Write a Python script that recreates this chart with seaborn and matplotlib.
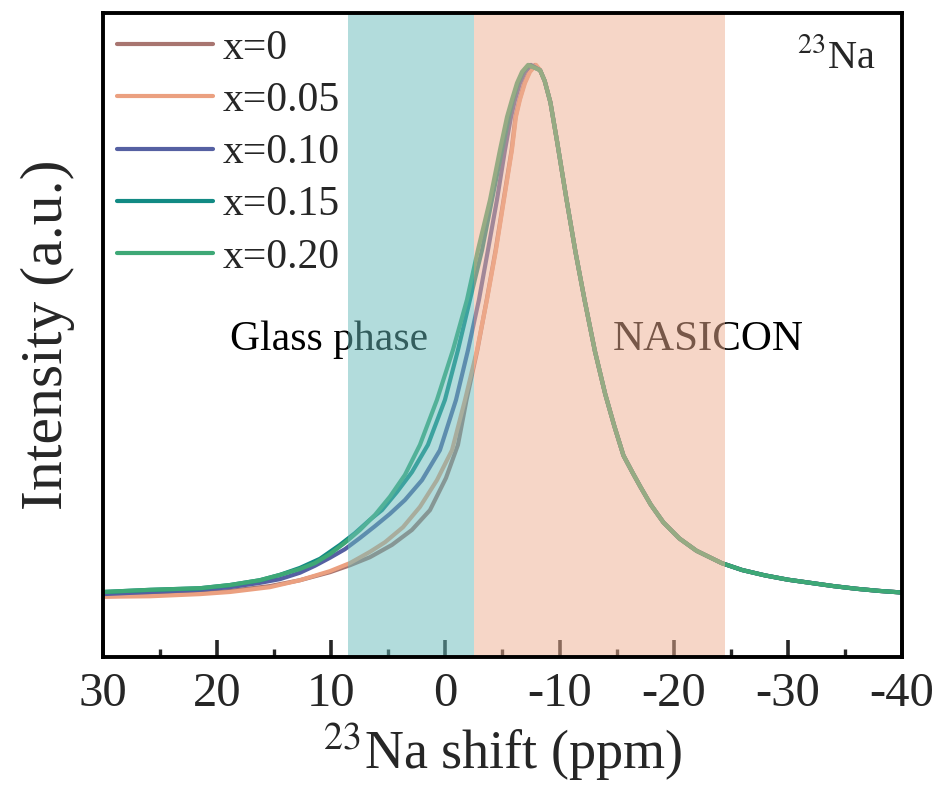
import numpy as np
import pandas as pd
import matplotlib
matplotlib.use("Agg")
import matplotlib.pyplot as plt
import seaborn as sns

# ---------------- data ----------------
series_labels = ["x=0", "x=0.05", "x=0.10", "x=0.15", "x=0.20"]
series_colors = ["#a87570", "#eba080", "#5560a2", "#128a84", "#3ea876"]

# left branch (low-field side) of each spectrum: ppm, normalized intensity
left_ppm_x000 = [30.0, 25.88, 21.50, 18.87, 15.37, 12.74, 10.11, 8.36, 6.61, 4.68, 2.93, 1.35, -0.05, -1.10, -1.85,
                 -2.80, -3.62, -4.40, -5.10, -5.80, -6.14, -6.49, -6.92, -7.35, -7.85]
left_int_x000 = [0.007, 0.009, 0.013, 0.017, 0.026, 0.037, 0.052, 0.065, 0.080, 0.103, 0.131, 0.168, 0.228, 0.290, 0.374,
                 0.467, 0.561, 0.654, 0.748, 0.841, 0.903, 0.935, 0.966, 0.987, 1.000]

left_ppm_x005 = [30.0, 25.88, 21.50, 18.87, 15.37, 12.74, 10.11, 8.36, 6.61, 5.29, 3.72, 2.23, 0.74, -0.58, -1.72,
                 -2.77, -3.64, -4.43, -5.13, -5.83, -6.18, -6.53, -6.97, -7.41, -7.94]
left_int_x005 = [0.006, 0.007, 0.011, 0.015, 0.024, 0.037, 0.054, 0.069, 0.090, 0.108, 0.136, 0.174, 0.224, 0.280, 0.374,
                 0.467, 0.561, 0.654, 0.748, 0.841, 0.903, 0.935, 0.966, 0.987, 1.000]

left_ppm_x010 = [30.0, 25.88, 21.50, 18.87, 16.25, 14.49, 12.74, 11.43, 10.11, 8.80, 7.48, 6.17, 4.86, 3.54, 2.05, 0.48,
                 -0.93, -1.98, -2.94, -3.73, -4.52, -5.22, -5.75, -6.10, -6.53, -6.97, -7.50]
left_int_x010 = [0.011, 0.015, 0.019, 0.024, 0.032, 0.039, 0.051, 0.064, 0.079, 0.095, 0.116, 0.138, 0.161, 0.187, 0.224, 0.280,
                 0.374, 0.467, 0.561, 0.654, 0.748, 0.841, 0.903, 0.935, 0.966, 0.987, 1.000]

left_ppm_x015 = [30.0, 25.88, 21.50, 18.87, 16.25, 14.49, 12.74, 10.99, 9.24, 7.92, 6.61, 5.56, 4.24, 2.93, 1.53, 0.04,
                 -1.10, -2.15, -3.21, -4.08, -4.96, -5.57, -5.92, -6.36, -6.80, -7.32]
left_int_x015 = [0.015, 0.019, 0.022, 0.028, 0.037, 0.047, 0.060, 0.077, 0.103, 0.125, 0.150, 0.168, 0.202, 0.239, 0.290, 0.374,
                 0.467, 0.561, 0.654, 0.748, 0.841, 0.903, 0.935, 0.966, 0.987, 1.000]

left_ppm_x020 = [30.0, 25.88, 21.50, 18.87, 16.25, 14.49, 12.74, 11.43, 10.11, 8.80, 7.48, 6.17, 4.86, 3.54, 2.23, 0.74,
                 -0.66, -1.89, -2.85, -3.91, -4.78, -5.40, -5.83, -6.27, -6.71, -7.24]
left_int_x020 = [0.015, 0.019, 0.022, 0.028, 0.037, 0.047, 0.058, 0.069, 0.086, 0.107, 0.131, 0.159, 0.193, 0.234, 0.290, 0.374,
                 0.467, 0.561, 0.654, 0.748, 0.841, 0.903, 0.935, 0.966, 0.987, 1.000]

# right branch (high-field side), nearly identical for all samples
right_ppm = [-8.3, -8.7, -9.2, -9.8, -10.6, -11.4, -12.2, -13.1, -14.0, -14.8, -15.6, -16.4, -17.1, -18.0, -19.1,
             -20.5, -22.0, -24.2, -26.0, -28.0, -30.0, -32.0, -34.0, -36.0, -38.0, -40.0]
right_int = [0.990, 0.970, 0.930, 0.855, 0.750, 0.650, 0.560, 0.465, 0.385, 0.325, 0.270, 0.238, 0.211, 0.178, 0.145,
             0.115, 0.092, 0.069, 0.056, 0.046, 0.038, 0.032, 0.026, 0.021, 0.017, 0.014]

left_ppm_all = [left_ppm_x000, left_ppm_x005, left_ppm_x010, left_ppm_x015, left_ppm_x020]
left_int_all = [left_int_x000, left_int_x005, left_int_x010, left_int_x015, left_int_x020]

# shaded regions (ppm)
glass_range = (8.5, -2.5)
nasicon_range = (-2.5, -24.5)
glass_color = "#66baba"
nasicon_color = "#eeae90"

xticks = [30, 20, 10, 0, -10, -20, -30, -40]
xtick_labels = ["30", "20", "10", "0", "-10", "-20", "-30", "-40"]
minor_xticks = [25, 15, 5, -5, -15, -25, -35]

# ---------------- build frame ----------------
rows = []
for lab, lp, li in zip(series_labels, left_ppm_all, left_int_all):
    for p, v in zip(lp, li):
        rows.append((lab, p, v))
    for p, v in zip(right_ppm, right_int):
        rows.append((lab, p, v))
df = pd.DataFrame(rows, columns=["sample", "ppm", "intensity"])

# ---------------- plot ----------------
sns.set_style("ticks")
plt.rcParams["font.family"] = ["Liberation Serif", "DejaVu Serif"]
plt.rcParams["mathtext.fontset"] = "stix"

fig = plt.figure(figsize=(9.42, 7.98), dpi=100)
ax = fig.add_axes([0.1093, 0.1767, 0.8482, 0.807])

sns.lineplot(data=df, x="ppm", y="intensity", hue="sample", hue_order=series_labels,
             palette=series_colors, estimator=None, sort=True, linewidth=3.0, ax=ax,
             zorder=2)
for ln in ax.get_lines():
    ln.set_solid_joinstyle("round")
    ln.set_solid_capstyle("round")

ax.axvspan(glass_range[0], glass_range[1], color=glass_color, alpha=0.5, lw=0, zorder=4)
ax.axvspan(nasicon_range[0], nasicon_range[1], color=nasicon_color, alpha=0.5, lw=0, zorder=4)

ax.set_xlim(30, -40)
ax.set_ylim(-0.1065, 1.097)
ax.set_yticks([])
ax.set_xticks(xticks)
ax.set_xticklabels(xtick_labels)
ax.set_xticks(minor_xticks, minor=True)
ax.tick_params(axis="x", which="major", direction="in", length=12, width=2.6,
               labelsize=35, pad=11, top=False)
ax.tick_params(axis="x", which="minor", direction="in", length=6, width=2.4, top=False)

for sp in ax.spines.values():
    sp.set_linewidth(2.8)
    sp.set_color("black")
    sp.set_zorder(5)

ax.set_xlabel(r"$^{23}$Na shift (ppm)", fontsize=39, labelpad=4)
ax.set_ylabel("Intensity (a.u.)", fontsize=43, labelpad=20)

ax.text(0.283, 0.492, "Glass phase", transform=ax.transAxes, fontsize=30,
        ha="center", va="center", zorder=3, color="black")
ax.text(0.757, 0.492, "NASICON", transform=ax.transAxes, fontsize=31,
        ha="center", va="center", zorder=3, color="black")
ax.text(0.968, 0.93, r"$^{23}$Na", transform=ax.transAxes, fontsize=29,
        ha="right", va="center", zorder=3)

leg = ax.legend(loc="upper left", bbox_to_anchor=(0.018, 0.975), frameon=False,
                fontsize=30, handlelength=2.3, handletextpad=0.22,
                labelspacing=0.33, borderaxespad=0.0, borderpad=0.0)
for h in leg.get_lines():
    h.set_linewidth(3.0)
leg.set_zorder(6)

fig.savefig("out.png", dpi=100)
